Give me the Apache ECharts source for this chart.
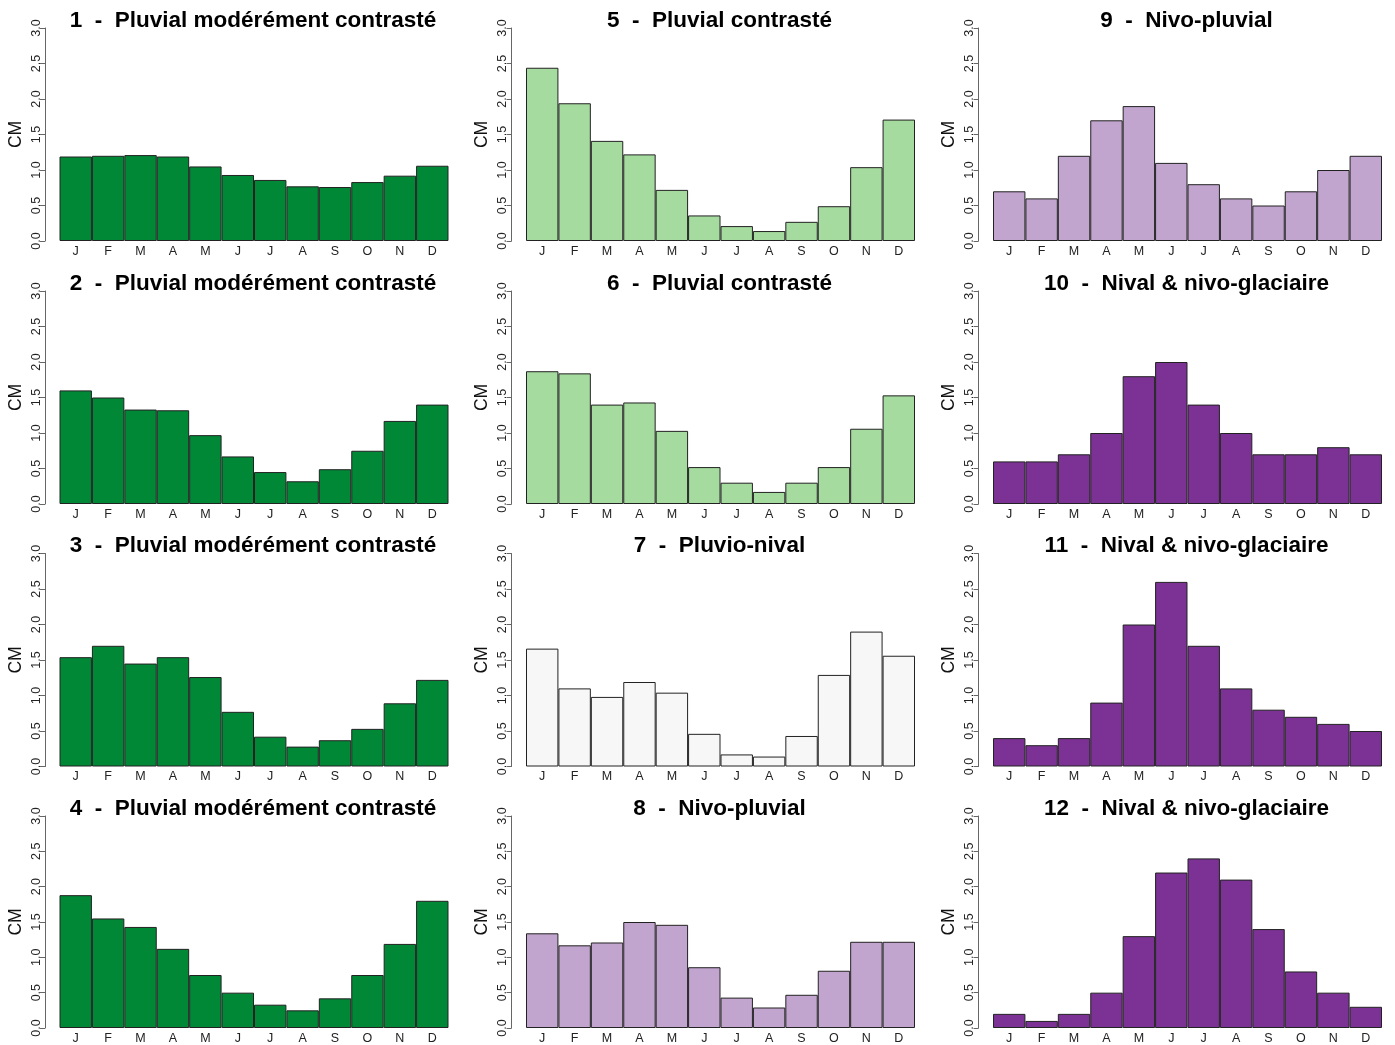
<!DOCTYPE html>
<html>
<head>
<meta charset="utf-8">
<script src="https://cdn.jsdelivr.net/npm/echarts@6/dist/echarts.min.js"></script>
<style>
  html, body { margin: 0; padding: 0; background: #ffffff; }
  #chart { width: 1395px; height: 1045px; }
</style>
</head>
<body>
<div id="chart"></div>
<script>
// Month initials along each x axis
const months = ['J', 'F', 'M', 'A', 'M', 'J', 'J', 'A', 'S', 'O', 'N', 'D'];

// Monthly flow coefficients (CM) for each regime class
const regime1  = [1.19, 1.20, 1.21, 1.19, 1.05, 0.93, 0.86, 0.77, 0.76, 0.83, 0.92, 1.06];
const regime2  = [1.60, 1.50, 1.33, 1.32, 0.97, 0.67, 0.45, 0.32, 0.49, 0.75, 1.17, 1.40];
const regime3  = [1.54, 1.70, 1.45, 1.54, 1.26, 0.77, 0.42, 0.28, 0.37, 0.53, 0.89, 1.22];
const regime4  = [1.88, 1.55, 1.43, 1.12, 0.75, 0.50, 0.33, 0.25, 0.42, 0.75, 1.19, 1.80];
const regime5  = [2.44, 1.94, 1.41, 1.22, 0.72, 0.36, 0.21, 0.14, 0.27, 0.49, 1.04, 1.71];
const regime6  = [1.87, 1.84, 1.40, 1.43, 1.03, 0.52, 0.30, 0.17, 0.30, 0.52, 1.06, 1.53];
const regime7  = [1.66, 1.10, 0.98, 1.19, 1.04, 0.46, 0.17, 0.14, 0.43, 1.29, 1.90, 1.56];
const regime8  = [1.34, 1.17, 1.21, 1.50, 1.46, 0.86, 0.43, 0.29, 0.47, 0.81, 1.22, 1.22];
const regime9  = [0.7, 0.6, 1.2, 1.7, 1.9, 1.1, 0.8, 0.6, 0.5, 0.7, 1.0, 1.2];
const regime10 = [0.6, 0.6, 0.7, 1.0, 1.8, 2.0, 1.4, 1.0, 0.7, 0.7, 0.8, 0.7];
const regime11 = [0.4, 0.3, 0.4, 0.9, 2.0, 2.6, 1.7, 1.1, 0.8, 0.7, 0.6, 0.5];
const regime12 = [0.2, 0.1, 0.2, 0.5, 1.3, 2.2, 2.4, 2.1, 1.4, 0.8, 0.5, 0.3];

const regimeValues = [regime1, regime2, regime3, regime4, regime5, regime6,
                      regime7, regime8, regime9, regime10, regime11, regime12];

// Panel headings
const regimeTitles = [
  '1  -  Pluvial modérément contrasté',
  '2  -  Pluvial modérément contrasté',
  '3  -  Pluvial modérément contrasté',
  '4  -  Pluvial modérément contrasté',
  '5  -  Pluvial contrasté',
  '6  -  Pluvial contrasté',
  '7  -  Pluvio-nival',
  '8  -  Nivo-pluvial',
  '9  -  Nivo-pluvial',
  '10  -  Nival & nivo-glaciaire',
  '11  -  Nival & nivo-glaciaire',
  '12  -  Nival & nivo-glaciaire'
];

// Fill colour per panel (diverging purple-green scheme)
const regimeColors = [
  '#008837', '#008837', '#008837', '#008837',
  '#a6dba0', '#a6dba0',
  '#f7f7f7',
  '#c2a5cf', '#c2a5cf',
  '#7b3294', '#7b3294', '#7b3294'
];

// Y axis ticks
const yMin = 0, yMax = 3, yStep = 0.5;
const yAxisName = 'CM';

// Layout of the 3 x 4 panel grid
const FONT = '"Liberation Sans", Arial, Helvetica, sans-serif';
const colLeft = [59.5, 526, 993];
const rowTop = [28, 291, 553.5, 816];
const plotW = 389;
const plotH = 213;

const grids = [], xAxes = [], yAxes = [], series = [], titles = [];

regimeValues.forEach((vals, i) => {
  const col = Math.floor(i / 4);
  const row = i % 4;
  const left = colLeft[col];
  const top = rowTop[row];

  grids.push({ left: left, top: top, width: plotW, height: plotH, containLabel: false });

  xAxes.push({
    type: 'category',
    gridIndex: i,
    data: months,
    boundaryGap: true,
    axisLine: { show: false },
    axisTick: { show: false },
    splitLine: { show: false },
    axisLabel: {
      interval: 0,
      margin: 4,
      fontFamily: FONT,
      fontSize: 12.5,
      color: '#222'
    }
  });

  yAxes.push({
    type: 'value',
    gridIndex: i,
    min: yMin,
    max: yMax,
    interval: yStep,
    offset: 14.5,
    name: yAxisName,
    nameLocation: 'middle',
    nameRotate: 90,
    nameGap: 20,
    nameTextStyle: { fontFamily: FONT, fontSize: 17.5, color: '#111' },
    axisLine: { show: true, lineStyle: { color: '#666', width: 1 } },
    axisTick: { show: true, length: 5, inside: false, lineStyle: { color: '#666', width: 1 } },
    splitLine: { show: false },
    axisLabel: {
      rotate: 90,
      margin: 2,
      fontFamily: FONT,
      fontSize: 12.5,
      color: '#222',
      formatter: v => v.toFixed(1)
    }
  });

  series.push({
    type: 'bar',
    xAxisIndex: i,
    yAxisIndex: i,
    data: vals,
    barCategoryGap: '0%',
    itemStyle: {
      color: regimeColors[i],
      borderColor: '#222',
      borderWidth: 1
    },
    silent: true,
    animation: false
  });

  titles.push({
    text: regimeTitles[i],
    left: left + plotW / 2 - 1,
    top: top - 7.5,
    textAlign: 'center',
    textVerticalAlign: 'middle',
    padding: 0,
    textStyle: { fontFamily: FONT, fontSize: 22.5, fontWeight: 'bold', color: '#000' }
  });
});

const chart = echarts.init(document.getElementById('chart'), null, { renderer: 'canvas' });
chart.setOption({
  backgroundColor: '#ffffff',
  animation: false,
  title: titles,
  grid: grids,
  xAxis: xAxes,
  yAxis: yAxes,
  series: series
});
</script>
</body>
</html>
